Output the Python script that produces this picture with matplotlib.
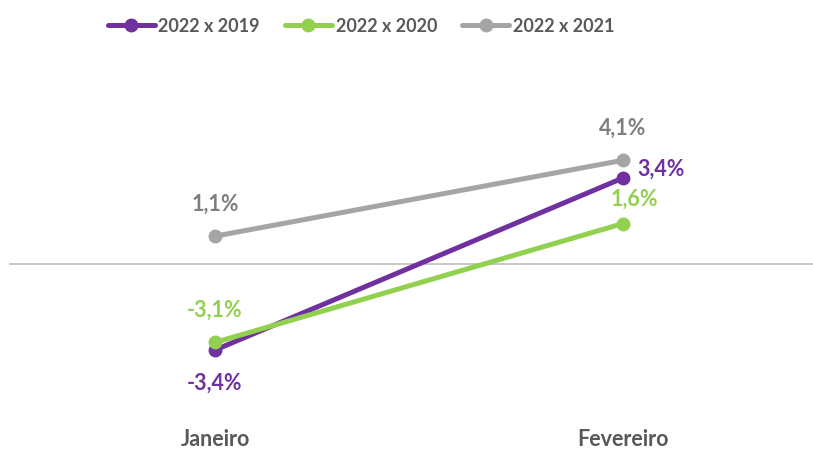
import matplotlib
matplotlib.use("Agg")
import matplotlib.pyplot as plt

categories = ["Janeiro", "Fevereiro"]
series_names = ["2022 x 2019", "2022 x 2020", "2022 x 2021"]
v2019 = [-3.4, 3.4]
v2020 = [-3.1, 1.6]
v2021 = [1.1, 4.1]
label_2019 = ["-3,4%", "3,4%"]
label_2020 = ["-3,1%", "1,6%"]
label_2021 = ["1,1%", "4,1%"]

colors = ["#7030A0", "#92D050", "#A5A5A5"]
text_colors = ["#7030A0", "#92D050", "#7F7F7F"]

plt.rcParams['font.family'] = ['Lato', 'DejaVu Sans']

W, H = 813, 451
fig = plt.figure(figsize=(W / 100, H / 100), dpi=100)
ax = fig.add_axes([0, 0, 1, 1])
ax.set_axis_off()

# pixel mapping
x0_px, x1_px = 215, 623
ppu = x1_px - x0_px
ax.set_xlim(-x0_px / ppu, (W - x0_px) / ppu)
zero_px = 264
ppp = 25.3
ax.set_ylim(-(H - zero_px) / ppp, zero_px / ppp)

ax.axhline(0, xmin=10 / W, xmax=1, color="#BFBFBF", lw=1.2, zorder=1)

xs = list(range(len(categories)))
series = [v2019, v2020, v2021]
handles = []
for vals, c, name in zip(series, colors, series_names):
    h, = ax.plot(xs, vals, color=c, lw=3.6, marker="o", markersize=9,
                 solid_capstyle="round", label=name, zorder=3)
    handles.append(h)

fs = 15.5
# data labels (offsets in points)
def lab(x, y, txt, color, dx, dy):
    ax.annotate(txt, (x, y), xytext=(dx, dy), textcoords="offset points",
                ha="center", va="center", fontsize=fs, fontweight="bold", color=color)

lab(0, v2021[0], label_2021[0], text_colors[2], 0, 23)
lab(1, v2021[1], label_2021[1], text_colors[2], 0, 23)
lab(0, v2020[0], label_2020[0], text_colors[1], 0, 23)
lab(1, v2020[1], label_2020[1], text_colors[1], 8.5, 17.5)
lab(0, v2019[0], label_2019[0], text_colors[0], 0, -24)
lab(1, v2019[1], label_2019[1], text_colors[0], 27.5, 6)

for x, c in zip(xs, categories):
    ax.text(x, -(440 - zero_px) / ppp, c, ha="center", va="center",
            fontsize=fs, fontweight="bold", color="#595959")

leg = fig.legend(handles=handles, loc="center", bbox_to_anchor=(361 / W, 1 - 26 / H),
                 ncol=3, frameon=False, handlelength=2.6, handletextpad=0.2,
                 columnspacing=1.4, prop={"size": 13, "weight": "bold"})
for t in leg.get_texts():
    t.set_color("#595959")

fig.savefig("out.png", dpi=100)
